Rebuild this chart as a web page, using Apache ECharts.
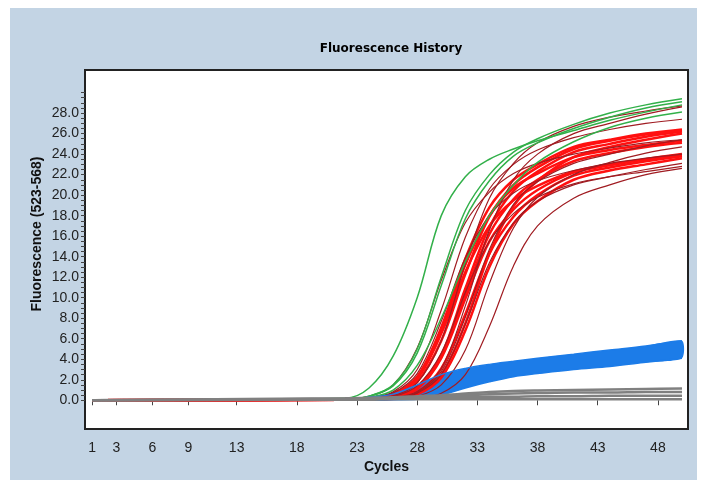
<!DOCTYPE html>
<html>
<head>
<meta charset="utf-8">
<script src="https://cdn.jsdelivr.net/npm/echarts@6/dist/echarts.min.js"></script>
<style>
  html, body { margin: 0; padding: 0; background: #fff; }
  #grafico { position: absolute; left: 10px; top: 8px; width: 687px; height: 472px; background: #c3d4e4; }
</style>
</head>
<body>
<div id="grafico"></div>
<script>
// ciclos donde se leyeron los valores
const cycles = [1, 22, 24, 26, 28, 30, 32, 34, 36, 38, 41, 44, 47, 50];

const xTicks = [1, 3, 6, 9, 13, 18, 23, 28, 33, 38, 43, 48];
const yTicks = [0, 2, 4, 6, 8, 10, 12, 14, 16, 18, 20, 22, 24, 26, 28];

// curvas verdes
const green1 = [0.0, 0.2, 1.2, 4.3, 10.0, 18.0, 21.8, 23.5, 24.5, 25.3, 26.3, 27.3, 28.1, 28.8];
const green2 = [0.0, 0.1, 0.4, 1.5, 5.0, 12.0, 18.5, 22.0, 24.2, 25.5, 26.9, 28.0, 28.8, 29.4];
const green3 = [0.0, 0.1, 0.4, 1.4, 4.6, 11.2, 17.7, 21.4, 23.8, 25.1, 26.5, 27.6, 28.5, 29.1];
const green4 = [0.0, 0.1, 0.3, 1.0, 3.4, 8.0, 13.5, 18.0, 21.0, 23.2, 25.2, 26.6, 27.5, 28.1];

// curvas rojo oscuro (finas)
const darkRed1 = [0.0, 0.08, 0.22, 0.82, 3.0, 8.8, 15.9, 20.6, 23.0, 24.4, 25.6, 26.4, 27.0, 27.4];
const darkRed2 = [0.0, 0.13, 0.38, 1.5, 5.1, 11.7, 17.3, 20.3, 22.1, 23.1, 24.0, 24.6, 25.1, 25.4];
const darkRed3 = [0.0, 0.05, 0.09, 0.23, 0.86, 3.1, 9.2, 16.6, 21.5, 24.0, 26.0, 27.0, 27.9, 28.6];
const darkRed4 = [0.0, 0.05, 0.06, 0.12, 0.37, 1.5, 4.9, 11.4, 16.8, 19.8, 22.0, 23.2, 24.1, 24.7];
const darkRed5 = [0.0, 0.05, 0.05, 0.07, 0.18, 0.68, 2.5, 7.2, 13.1, 17.0, 19.7, 21.0, 22.0, 22.6];
const darkRed6 = [0.0, 0.05, 0.07, 0.18, 0.69, 2.5, 7.4, 13.4, 17.3, 19.4, 21.0, 21.8, 22.5, 23.1];
const darkRed7 = [0.0, 0.05, 0.11, 0.34, 1.4, 4.6, 10.5, 15.5, 18.2, 19.8, 21.1, 21.8, 22.3, 22.8];
const darkRed8 = [0.0, 0.05, 0.08, 0.2, 0.76, 2.8, 8.1, 14.7, 19.1, 21.3, 23.1, 24.0, 24.8, 25.4];
const darkRed9 = [0.0, 0.07, 0.19, 0.72, 2.6, 7.7, 13.9, 18.0, 20.2, 21.4, 22.4, 23.1, 23.6, 24.0];
const darkRed10 = [0.0, 0.05, 0.14, 0.43, 1.7, 5.8, 13.3, 19.7, 23.1, 25.1, 26.7, 27.6, 28.2, 28.7];

// curvas rojo vivo (banda gruesa)
const red1 = [0.0, 0.08, 0.2, 0.63, 2.3, 7.1, 13.8, 18.8, 21.5, 23.0, 24.7, 25.4, 26.0, 26.4];
const red2 = [0.0, 0.05, 0.12, 0.31, 1.3, 4.4, 10.9, 16.9, 20.4, 22.3, 24.2, 25.0, 25.7, 26.2];
const red3 = [0.0, 0.05, 0.07, 0.17, 0.62, 2.5, 7.5, 14.3, 18.9, 21.4, 23.7, 24.7, 25.4, 26.0];
const red4 = [0.0, 0.07, 0.17, 0.58, 2.1, 6.5, 12.5, 17.0, 19.5, 20.9, 22.3, 23.0, 23.5, 23.9];
const red5 = [0.0, 0.05, 0.1, 0.29, 1.1, 4.1, 9.9, 15.5, 18.6, 20.5, 22.2, 22.9, 23.5, 24.0];
const red6 = [0.0, 0.05, 0.06, 0.15, 0.57, 2.2, 6.8, 13.0, 17.2, 19.4, 21.5, 22.4, 23.0, 23.6];
const red7 = [0.0, 0.05, 0.12, 0.3, 1.2, 4.3, 10.4, 16.2, 19.6, 21.5, 23.3, 24.1, 24.7, 25.1];
const red8 = [0.0, 0.08, 0.18, 0.61, 2.2, 6.9, 13.2, 18.0, 20.7, 22.1, 23.7, 24.4, 24.9, 25.3];
const red9 = [0.0, 0.06, 0.15, 0.48, 1.8, 5.8, 12.3, 17.9, 21.0, 22.7, 24.5, 25.3, 25.9, 26.3];
const red10 = [0.0, 0.05, 0.08, 0.22, 0.8, 3.1, 8.4, 14.3, 17.9, 20.0, 21.9, 22.7, 23.3, 23.8];

// banda azul: borde superior e inferior
const blueHigh = [0.0, 0.15, 0.3, 0.6, 1.5, 2.5, 3.1, 3.5, 3.8, 4.1, 4.5, 4.9, 5.3, 5.8];
const blueLow = [0.0, 0.0, 0.0, 0.05, 0.1, 0.5, 1.2, 1.8, 2.3, 2.6, 3.0, 3.3, 3.7, 4.1];

// lineas grises casi planas
const gray1 = [0.0, 0.2, 0.25, 0.3, 0.4, 0.5, 0.65, 0.8, 0.9, 0.95, 1.0, 1.05, 1.1, 1.15];
const gray2 = [0.0, 0.15, 0.2, 0.2, 0.25, 0.3, 0.3, 0.35, 0.35, 0.4, 0.4, 0.45, 0.45, 0.45];
const gray3 = [0.0, 0.05, 0.05, 0.1, 0.1, 0.1, 0.1, 0.1, 0.1, 0.1, 0.1, 0.1, 0.1, 0.1];
const gray4 = [0.0, 0.1, 0.15, 0.2, 0.3, 0.4, 0.5, 0.6, 0.65, 0.7, 0.75, 0.75, 0.8, 0.8];

const grafico = echarts.init(document.getElementById('grafico'));
const AZUL = '#1c7ce8';

function linea(valores, color, ancho) {
    return {
        type: 'line',
        data: cycles.map((c, i) => [c, valores[i]]),
        smooth: 0.35,
        symbol: 'none',
        silent: true,
        lineStyle: { color: color, width: ancho }
    };
}

const series = [];
[red1, red2, red3, red4, red5, red6, red7, red8, red9, red10].forEach(v => series.push(linea(v, '#ff1010', 2.5)));
[darkRed1, darkRed2, darkRed3, darkRed4, darkRed5, darkRed6, darkRed7, darkRed8, darkRed9, darkRed10].forEach(v => series.push(linea(v, '#a01c22', 1.2)));
[green1, green2, green3, green4].forEach(v => series.push(linea(v, '#32b04a', 1.5)));

// banda azul como poligono entre los dos bordes
series.push({
    type: 'custom',
    silent: true,
    clip: true,
    data: [[cycles[0], blueLow[0]]],
    renderItem: (params, api) => {
        const arriba = cycles.map((c, i) => api.coord([c, blueHigh[i]]));
        const abajo = cycles.map((c, i) => api.coord([c, blueLow[i]])).reverse();
        return {
            type: 'polygon',
            shape: { points: arriba.concat(abajo), smooth: 0.25 },
            style: { fill: AZUL }
        };
    }
});
series.push(linea(blueHigh, AZUL, 1.5));
series.push(linea(blueLow, AZUL, 1.5));

[gray1, gray2, gray3, gray4].forEach(v => series.push(linea(v, '#808080', 2.5)));

const marcasY = [];
for (let v = 0; v <= 30; v += 0.5) marcasY.push(v);

grafico.setOption({
    animation: false,
    title: {
        text: 'Fluorescence History',
        left: 376, top: 30, textAlign: 'center',
        textStyle: { fontFamily: 'DejaVu Sans', fontSize: 12, fontWeight: 'bold', color: '#000' }
    },
    grid: {
        left: 75, top: 62, width: 603, height: 359,
        show: true, backgroundColor: '#fff', borderColor: '#222', borderWidth: 2
    },
    xAxis: {
        type: 'value', min: 0.4, max: 50.5,
        name: 'Cycles', nameLocation: 'middle', nameGap: 30,
        nameTextStyle: { fontFamily: 'Liberation Sans', fontSize: 14, fontWeight: 'bold', color: '#111' },
        axisLine: { show: false },
        splitLine: { show: false },
        axisTick: { customValues: xTicks, length: 5, lineStyle: { color: '#444' } },
        axisLabel: { customValues: xTicks, margin: 12, fontFamily: 'Liberation Sans', fontSize: 14, color: '#222' }
    },
    yAxis: {
        type: 'value', min: -2.8, max: 32.2,
        axisLine: { show: false },
        splitLine: { show: false },
        axisTick: { customValues: marcasY, length: 4, lineStyle: { color: '#444' } },
        axisLabel: {
            customValues: yTicks, margin: 6, fontFamily: 'Liberation Sans', fontSize: 14, color: '#222',
            formatter: v => v.toFixed(1)
        }
    },
    graphic: [{
        type: 'text', x: 27, y: 226, rotation: Math.PI / 2,
        style: {
            text: 'Fluorescence (523-568)', font: 'bold 14px "Liberation Sans"', fill: '#111',
            textAlign: 'center', textVerticalAlign: 'middle'
        }
    }],
    series: series
});

window.addEventListener('resize', () => grafico.resize());
</script>
</body>
</html>
